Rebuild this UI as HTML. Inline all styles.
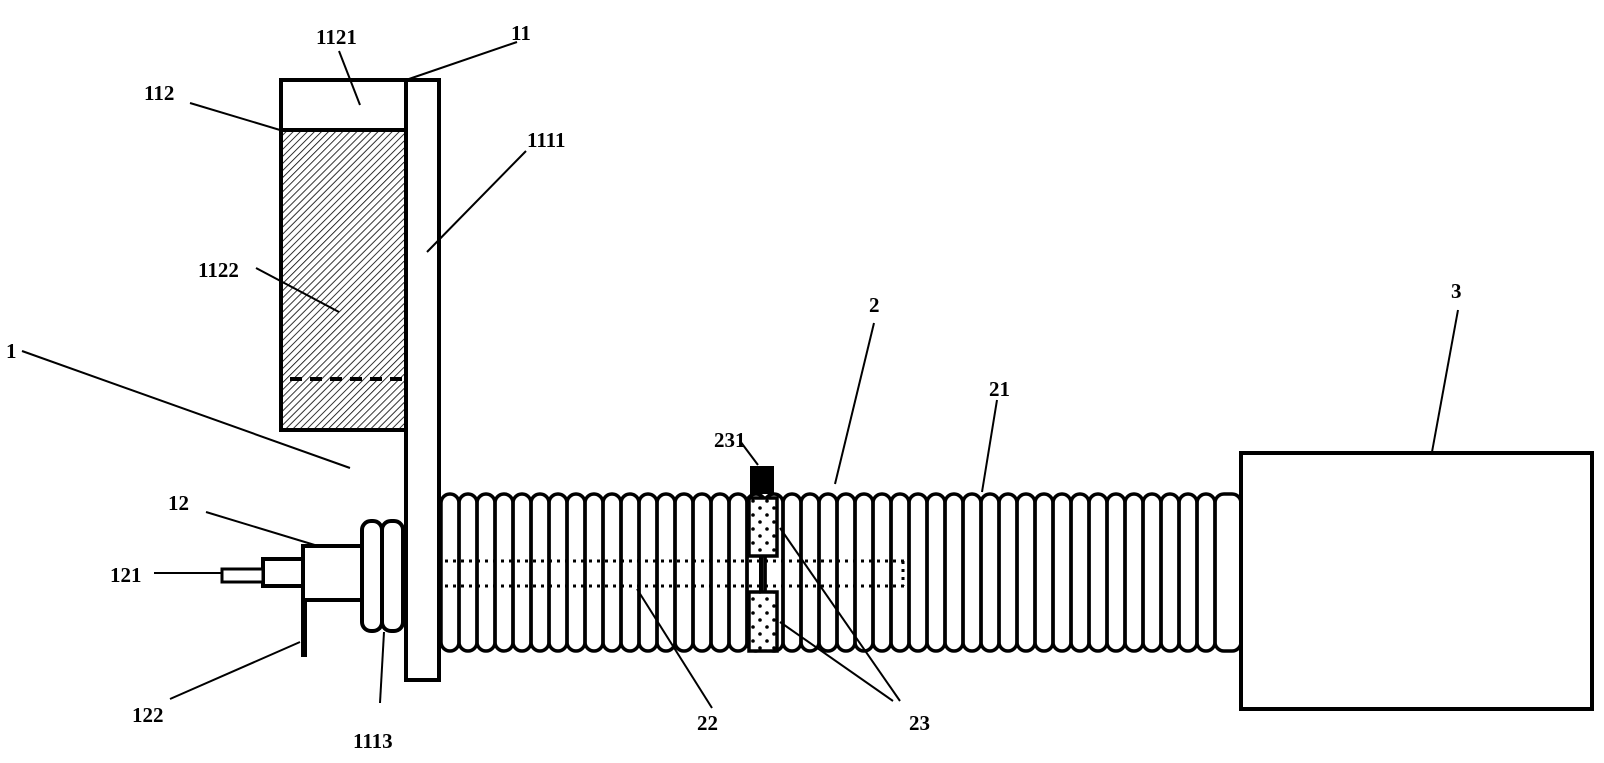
<!DOCTYPE html>
<html><head><meta charset="utf-8"><style>
html,body{margin:0;padding:0;background:#fff;}
svg{display:block}
text{font-family:"Liberation Serif",serif;font-weight:bold;font-size:21px;fill:#000}
</style></head><body>
<svg width="1604" height="763" viewBox="0 0 1604 763" xmlns="http://www.w3.org/2000/svg">
<defs>
<pattern id="h" width="5" height="5" patternUnits="userSpaceOnUse" patternTransform="rotate(45)">
<line x1="0" y1="0" x2="0" y2="5" stroke="#000" stroke-width="1.6"/>
</pattern>
<pattern id="d" width="14" height="14" patternUnits="userSpaceOnUse">
<circle cx="4" cy="4" r="1.8" fill="#000"/><circle cx="11" cy="11" r="1.8" fill="#000"/>
</pattern>
</defs>
<rect x="281" y="130" width="125" height="300" fill="url(#h)"/>
<rect x="281" y="80" width="125" height="350" fill="none" stroke="#000" stroke-width="4"/>
<line x1="281" y1="130" x2="406" y2="130" stroke="#000" stroke-width="4"/>
<line x1="290" y1="379" x2="404" y2="379" stroke="#000" stroke-width="4" stroke-dasharray="12,8"/>
<rect x="406" y="80" width="33" height="600" fill="#fff" stroke="#000" stroke-width="4"/>
<g fill="none" stroke="#000" stroke-width="3.5">
<rect x="441" y="494" width="18" height="157" rx="9"/><rect x="459" y="494" width="18" height="157" rx="9"/><rect x="477" y="494" width="18" height="157" rx="9"/><rect x="495" y="494" width="18" height="157" rx="9"/><rect x="513" y="494" width="18" height="157" rx="9"/><rect x="531" y="494" width="18" height="157" rx="9"/><rect x="549" y="494" width="18" height="157" rx="9"/><rect x="567" y="494" width="18" height="157" rx="9"/><rect x="585" y="494" width="18" height="157" rx="9"/><rect x="603" y="494" width="18" height="157" rx="9"/><rect x="621" y="494" width="18" height="157" rx="9"/><rect x="639" y="494" width="18" height="157" rx="9"/><rect x="657" y="494" width="18" height="157" rx="9"/><rect x="675" y="494" width="18" height="157" rx="9"/><rect x="693" y="494" width="18" height="157" rx="9"/><rect x="711" y="494" width="18" height="157" rx="9"/><rect x="729" y="494" width="18" height="157" rx="9"/><rect x="747" y="494" width="18" height="157" rx="9"/><rect x="765" y="494" width="18" height="157" rx="9"/><rect x="783" y="494" width="18" height="157" rx="9"/><rect x="801" y="494" width="18" height="157" rx="9"/><rect x="819" y="494" width="18" height="157" rx="9"/><rect x="837" y="494" width="18" height="157" rx="9"/><rect x="855" y="494" width="18" height="157" rx="9"/><rect x="873" y="494" width="18" height="157" rx="9"/><rect x="891" y="494" width="18" height="157" rx="9"/><rect x="909" y="494" width="18" height="157" rx="9"/><rect x="927" y="494" width="18" height="157" rx="9"/><rect x="945" y="494" width="18" height="157" rx="9"/><rect x="963" y="494" width="18" height="157" rx="9"/><rect x="981" y="494" width="18" height="157" rx="9"/><rect x="999" y="494" width="18" height="157" rx="9"/><rect x="1017" y="494" width="18" height="157" rx="9"/><rect x="1035" y="494" width="18" height="157" rx="9"/><rect x="1053" y="494" width="18" height="157" rx="9"/><rect x="1071" y="494" width="18" height="157" rx="9"/><rect x="1089" y="494" width="18" height="157" rx="9"/><rect x="1107" y="494" width="18" height="157" rx="9"/><rect x="1125" y="494" width="18" height="157" rx="9"/><rect x="1143" y="494" width="18" height="157" rx="9"/><rect x="1161" y="494" width="18" height="157" rx="9"/><rect x="1179" y="494" width="18" height="157" rx="9"/><rect x="1197" y="494" width="18" height="157" rx="9"/><rect x="1215" y="494" width="26" height="157" rx="9"/>
</g>
<g fill="none" stroke="#000" stroke-width="3" stroke-dasharray="3,5">
<line x1="445" y1="561" x2="905" y2="561"/>
<line x1="445" y1="586" x2="905" y2="586"/>
<line x1="903" y1="561" x2="903" y2="586"/>
</g>
<rect x="749" y="498" width="28" height="58" fill="#fff" stroke="#000" stroke-width="3.5"/>
<rect x="749" y="498" width="28" height="58" fill="url(#d)"/>
<rect x="749" y="592" width="28" height="59" fill="#fff" stroke="#000" stroke-width="3.5"/>
<rect x="749" y="592" width="28" height="59" fill="url(#d)"/>
<line x1="761" y1="556" x2="761" y2="592" stroke="#000" stroke-width="4"/>
<rect x="750" y="466" width="24" height="28" fill="#000"/>
<rect x="362" y="521" width="20" height="110" rx="9" fill="#fff" stroke="#000" stroke-width="4"/>
<rect x="382" y="521" width="21" height="110" rx="9" fill="#fff" stroke="#000" stroke-width="4"/>
<rect x="303" y="546" width="59" height="54" fill="#fff" stroke="#000" stroke-width="4"/>
<rect x="263" y="559" width="40" height="27" fill="#fff" stroke="#000" stroke-width="4"/>
<rect x="222" y="569" width="41" height="13" fill="#fff" stroke="#000" stroke-width="3"/>
<line x1="304" y1="600" x2="304" y2="657" stroke="#000" stroke-width="6"/>
<rect x="1241" y="453" width="351" height="256" fill="#fff" stroke="#000" stroke-width="4"/>
<g stroke="#000" stroke-width="2" fill="none">
<line x1="339" y1="51" x2="360" y2="105"/>
<line x1="517" y1="42" x2="406" y2="80"/>
<line x1="190" y1="103" x2="280" y2="130"/>
<line x1="526" y1="151" x2="427" y2="252"/>
<line x1="256" y1="268" x2="339" y2="312"/>
<line x1="22" y1="351" x2="350" y2="468"/>
<line x1="206" y1="512" x2="318" y2="546"/>
<line x1="154" y1="573" x2="222" y2="573"/>
<line x1="170" y1="699" x2="300" y2="642"/>
<line x1="380" y1="703" x2="384" y2="632"/>
<line x1="712" y1="708" x2="637" y2="589"/>
<line x1="900" y1="701" x2="780" y2="528"/>
<line x1="893" y1="701" x2="780" y2="622"/>
<line x1="740" y1="441" x2="758" y2="465"/>
<line x1="874" y1="323" x2="835" y2="484"/>
<line x1="997" y1="400" x2="982" y2="492"/>
<line x1="1458" y1="310" x2="1432" y2="452"/>
</g>
<text x="316" y="44">1121</text>
<text x="511" y="40">11</text>
<text x="144" y="100">112</text>
<text x="527" y="147">1111</text>
<text x="198" y="277">1122</text>
<text x="6" y="358">1</text>
<text x="168" y="510">12</text>
<text x="110" y="582">121</text>
<text x="132" y="722">122</text>
<text x="353" y="748">1113</text>
<text x="697" y="730">22</text>
<text x="909" y="730">23</text>
<text x="714" y="447">231</text>
<text x="869" y="312">2</text>
<text x="989" y="396">21</text>
<text x="1451" y="298">3</text>
</svg>
</body></html>
